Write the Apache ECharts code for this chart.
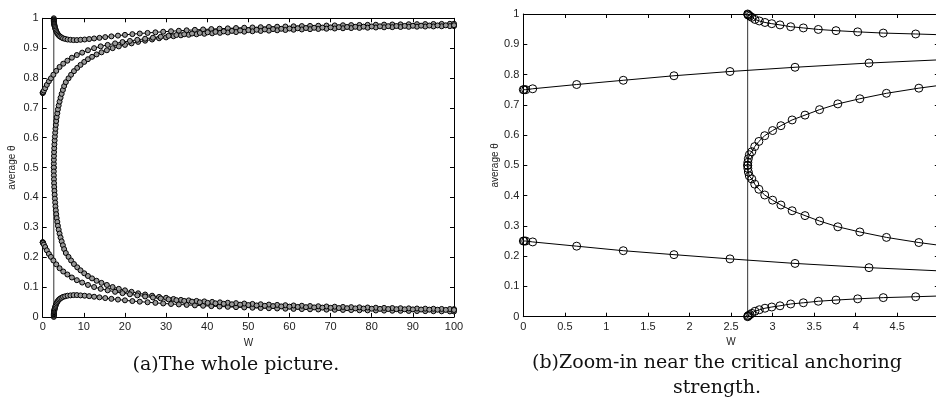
<!DOCTYPE html>
<html>
<head>
<meta charset="utf-8">
<script src="https://cdn.jsdelivr.net/npm/echarts@6/dist/echarts.min.js"></script>
<style>
html, body { margin: 0; padding: 0; background: #fff; }
#main { width: 936px; height: 398px; }
</style>
</head>
<body>
<div id="main"></div>
<script>
// critical anchoring strength (vertical line)
var criticalW = 2.7;

// ---- panel (a): the whole picture ----
// branches that start at 0 / 1 at the critical W
var leftEdgeW = [2.70, 2.70, 2.705, 2.71, 2.72, 2.73, 2.75, 2.77, 2.80, 2.84, 2.89, 2.95, 3.03, 3.12, 3.23, 3.37, 3.53, 3.72, 3.95, 4.22, 4.55, 4.95, 5.45, 6.05, 6.75, 7.5, 8.3, 9.2, 10.2, 11.3, 12.5, 13.8, 15.2, 16.7, 18.3, 20.0, 21.8, 23.6, 25.5, 27.4, 29.3, 31.2, 33.1, 35, 37, 39, 41, 43, 45, 47, 49, 51, 53, 55, 57, 59, 61, 63, 65, 67, 69, 71, 73, 75, 77, 79, 81, 83, 85, 87, 89, 91, 93, 95, 97, 99, 100];
var leftEdgeLow = [0.000, 0.004, 0.007, 0.009, 0.011, 0.013, 0.016, 0.018, 0.020, 0.023, 0.026, 0.029, 0.033, 0.037, 0.041, 0.046, 0.050, 0.054, 0.058, 0.061, 0.064, 0.067, 0.069, 0.071, 0.072, 0.073, 0.073, 0.072, 0.071, 0.0695, 0.0675, 0.0655, 0.063, 0.0605, 0.058, 0.0555, 0.053, 0.051, 0.049, 0.047, 0.045, 0.0433, 0.0417, 0.0402, 0.0387, 0.0373, 0.036, 0.0348, 0.0337, 0.0326, 0.0316, 0.0307, 0.0298, 0.029, 0.0282, 0.0275, 0.0268, 0.0261, 0.0255, 0.0249, 0.0243, 0.0238, 0.0233, 0.0228, 0.0223, 0.0219, 0.0215, 0.0211, 0.0207, 0.0203, 0.0199, 0.0196, 0.0193, 0.019, 0.0187, 0.0184, 0.0182];
var leftEdgeHigh = [1.000, 0.996, 0.993, 0.991, 0.989, 0.987, 0.984, 0.982, 0.980, 0.977, 0.974, 0.971, 0.967, 0.963, 0.959, 0.954, 0.950, 0.946, 0.942, 0.939, 0.936, 0.933, 0.931, 0.929, 0.928, 0.927, 0.927, 0.928, 0.929, 0.9305, 0.9325, 0.9345, 0.937, 0.9395, 0.942, 0.9445, 0.947, 0.949, 0.951, 0.953, 0.955, 0.9567, 0.9583, 0.9598, 0.9613, 0.9627, 0.964, 0.9652, 0.9663, 0.9674, 0.9684, 0.9693, 0.9702, 0.971, 0.9718, 0.9725, 0.9732, 0.9739, 0.9745, 0.9751, 0.9757, 0.9762, 0.9767, 0.9772, 0.9777, 0.9781, 0.9785, 0.9789, 0.9793, 0.9797, 0.9801, 0.9804, 0.9807, 0.981, 0.9813, 0.9816, 0.9818];

// branch that splits from 0.5 at the critical W
var leftMidW = [2.70, 2.704, 2.716, 2.737, 2.766, 2.804, 2.849, 2.902, 2.963, 3.03, 3.10, 3.19, 3.29, 3.40, 3.56, 3.70, 3.89, 4.10, 4.34, 4.61, 4.91, 5.21, 5.62, 6.28, 6.90, 7.60, 8.40, 9.20, 10.1, 11.0, 12.0, 13.1, 14.3, 15.6, 17.0, 18.5, 20.0, 21.6, 23.2, 24.9, 26.6, 28.3, 30.0, 31.8, 33.6, 35.5, 37.4, 39.3, 41.2, 43.1, 45, 47, 49, 51, 53, 55, 57, 59, 61, 63, 65, 67, 69, 71, 73, 75, 77, 79, 81, 83, 85, 87, 89, 91, 93, 95, 97, 99, 100];
var leftMidLow = [0.500, 0.487, 0.474, 0.461, 0.448, 0.435, 0.422, 0.409, 0.396, 0.383, 0.370, 0.357, 0.344, 0.331, 0.318, 0.305, 0.292, 0.279, 0.266, 0.253, 0.240, 0.227, 0.214, 0.201, 0.189, 0.177, 0.166, 0.156, 0.146, 0.137, 0.129, 0.121, 0.114, 0.107, 0.100, 0.094, 0.089, 0.084, 0.079, 0.075, 0.071, 0.067, 0.064, 0.060, 0.057, 0.0553, 0.0535, 0.0519, 0.0503, 0.0488, 0.0475, 0.0461, 0.0448, 0.0435, 0.0424, 0.0413, 0.0402, 0.0392, 0.0383, 0.0374, 0.0365, 0.0357, 0.0349, 0.0342, 0.0334, 0.0327, 0.0321, 0.0315, 0.0308, 0.0302, 0.0297, 0.0291, 0.0286, 0.0281, 0.0276, 0.0272, 0.0267, 0.0263, 0.0260];
var leftMidHigh = [0.500, 0.513, 0.526, 0.539, 0.552, 0.565, 0.578, 0.591, 0.604, 0.617, 0.630, 0.643, 0.656, 0.669, 0.682, 0.695, 0.708, 0.721, 0.734, 0.747, 0.760, 0.773, 0.786, 0.799, 0.811, 0.823, 0.834, 0.844, 0.854, 0.863, 0.871, 0.879, 0.886, 0.893, 0.900, 0.906, 0.911, 0.916, 0.921, 0.925, 0.929, 0.933, 0.936, 0.940, 0.943, 0.9447, 0.9465, 0.9481, 0.9497, 0.9512, 0.9525, 0.9539, 0.9552, 0.9565, 0.9576, 0.9587, 0.9598, 0.9608, 0.9617, 0.9626, 0.9635, 0.9643, 0.9651, 0.9658, 0.9666, 0.9673, 0.9679, 0.9685, 0.9692, 0.9698, 0.9703, 0.9709, 0.9714, 0.9719, 0.9724, 0.9728, 0.9733, 0.9737, 0.9740];

// branches that start at 0.25 / 0.75 for W = 0
var leftSideW = [0, 0.01, 0.03, 0.1, 0.3, 0.6, 1.0, 1.5, 2.0, 2.6, 3.3, 4.1, 5.0, 6.0, 7.1, 8.3, 9.6, 11.0, 12.5, 14.1, 15.8, 17.6, 19.4, 21.2, 23.0, 24.9, 26.8, 28.7, 30.6, 32.5, 34.4, 36.3, 38.2, 40.1, 42, 44, 46, 48, 50, 52, 54, 56, 58, 60, 62, 64, 66, 68, 70, 72, 74, 76, 78, 80, 82, 84, 86, 88, 90, 92, 94, 96, 98, 100];
var leftSideLow = [0.250, 0.250, 0.249, 0.247, 0.242, 0.234, 0.223, 0.211, 0.201, 0.189, 0.176, 0.163, 0.152, 0.142, 0.132, 0.123, 0.115, 0.107, 0.100, 0.094, 0.089, 0.084, 0.0795, 0.0758, 0.072, 0.0684, 0.065, 0.0618, 0.0588, 0.056, 0.0535, 0.0511, 0.049, 0.047, 0.0455, 0.0438, 0.0423, 0.0409, 0.0396, 0.0384, 0.0372, 0.0362, 0.0352, 0.0343, 0.0334, 0.0326, 0.0318, 0.0311, 0.0304, 0.0297, 0.0291, 0.0285, 0.0279, 0.0274, 0.0269, 0.0264, 0.0259, 0.0255, 0.0251, 0.0247, 0.0243, 0.0239, 0.0235, 0.0232];
var leftSideHigh = [0.750, 0.750, 0.751, 0.753, 0.758, 0.766, 0.777, 0.789, 0.799, 0.811, 0.824, 0.837, 0.848, 0.858, 0.868, 0.877, 0.885, 0.893, 0.900, 0.906, 0.911, 0.916, 0.9205, 0.9242, 0.928, 0.9316, 0.935, 0.9382, 0.9412, 0.944, 0.9465, 0.9489, 0.951, 0.953, 0.9545, 0.9562, 0.9577, 0.9591, 0.9604, 0.9616, 0.9628, 0.9638, 0.9648, 0.9657, 0.9666, 0.9674, 0.9682, 0.9689, 0.9696, 0.9703, 0.9709, 0.9715, 0.9721, 0.9726, 0.9731, 0.9736, 0.9741, 0.9745, 0.9749, 0.9753, 0.9757, 0.9761, 0.9765, 0.9768];

// ---- panel (b): zoom-in near the critical anchoring strength ----
var rightEdgeW = [2.700, 2.702, 2.710, 2.728, 2.750, 2.788, 2.840, 2.908, 2.990, 3.089, 3.218, 3.370, 3.550, 3.763, 4.024, 4.332, 4.722, 5.2];
var rightEdgeHigh = [1.000, 0.998, 0.996, 0.993, 0.989, 0.982, 0.977, 0.972, 0.968, 0.964, 0.958, 0.954, 0.949, 0.945, 0.941, 0.937, 0.934, 0.930];
var rightEdgeLow = [0.000, 0.002, 0.004, 0.007, 0.011, 0.018, 0.023, 0.028, 0.032, 0.036, 0.042, 0.046, 0.051, 0.055, 0.059, 0.063, 0.066, 0.070];

var rightMidW = [2.700, 2.702, 2.708, 2.72, 2.75, 2.785, 2.835, 2.905, 3.00, 3.10, 3.235, 3.39, 3.565, 3.785, 4.05, 4.37, 4.76, 5.25];
var rightMidLow = [0.500, 0.490, 0.478, 0.465, 0.455, 0.438, 0.421, 0.402, 0.385, 0.369, 0.350, 0.334, 0.316, 0.297, 0.280, 0.262, 0.245, 0.227];
var rightMidHigh = [0.500, 0.510, 0.522, 0.535, 0.545, 0.562, 0.579, 0.598, 0.615, 0.631, 0.650, 0.666, 0.684, 0.703, 0.720, 0.738, 0.755, 0.773];

var rightSideW = [0, 0.01, 0.03, 0.113, 0.642, 1.203, 1.813, 2.487, 3.27, 4.16, 5.12];
var rightSideLow = [0.250, 0.250, 0.250, 0.247, 0.233, 0.218, 0.205, 0.191, 0.176, 0.162, 0.150];
var rightSideHigh = [0.750, 0.750, 0.750, 0.753, 0.767, 0.781, 0.796, 0.810, 0.824, 0.838, 0.850];

var sansFont = 'Liberation Sans, Arial, sans-serif';
var serifFont = 'DejaVu Serif, serif';

function pairs(ws, ts) {
    return ws.map(function (w, i) { return [w, ts[i]]; });
}

function curve(ws, ts, axis, size, fill) {
    return {
        type: 'line',
        xAxisIndex: axis,
        yAxisIndex: axis,
        data: pairs(ws, ts),
        symbol: 'circle',
        symbolSize: size,
        showAllSymbol: true,
        clip: true,
        lineStyle: { color: '#000', width: 1 },
        itemStyle: { color: fill, borderColor: '#000', borderWidth: 1 },
        emphasis: { disabled: true },
        z: 3
    };
}

function critical(axis) {
    return {
        type: 'line',
        xAxisIndex: axis,
        yAxisIndex: axis,
        data: [[criticalW, 0], [criticalW, 1]],
        symbol: 'none',
        lineStyle: { color: '#333', width: 1 },
        emphasis: { disabled: true },
        z: 2
    };
}

function xAxisFor(grid, max, step, top) {
    return {
        gridIndex: grid,
        type: 'value',
        position: top ? 'top' : 'bottom',
        min: 0,
        max: max,
        interval: step,
        axisLine: { show: true, onZero: false, lineStyle: { color: '#000', width: 1 } },
        axisTick: { show: true, inside: true, length: 4, lineStyle: { color: '#000' } },
        axisLabel: { show: !top, margin: 5, fontSize: 11, color: '#222', fontFamily: sansFont, showMaxLabel: max !== 5 },
        splitLine: { show: false },
        name: top ? '' : 'W',
        nameLocation: 'middle',
        nameGap: 11,
        nameTextStyle: { fontSize: 10, color: '#222', fontFamily: sansFont }
    };
}

function yAxisFor(grid, right, gap) {
    return {
        gridIndex: grid,
        type: 'value',
        position: right ? 'right' : 'left',
        min: 0,
        max: 1,
        interval: 0.1,
        axisLine: { show: true, onZero: false, lineStyle: { color: '#000', width: 1 } },
        axisTick: { show: true, inside: true, length: 4, lineStyle: { color: '#000' } },
        axisLabel: { show: !right, margin: 4, fontSize: 11, color: '#222', fontFamily: sansFont },
        splitLine: { show: false },
        name: right ? '' : 'average \u03b8',
        nameLocation: 'middle',
        nameRotate: 90,
        nameGap: gap,
        nameTextStyle: { fontSize: 10, color: '#222', fontFamily: sansFont }
    };
}

var chart = echarts.init(document.getElementById('main'), null, { renderer: 'canvas' });

chart.setOption({
    animation: false,
    backgroundColor: '#fff',
    grid: [
        { left: 42.7, top: 18.3, width: 411.3, height: 298.6, outerBoundsMode: 'none', containLabel: false },
        { left: 523.3, top: 14, width: 415.5, height: 302.7, outerBoundsMode: 'none', containLabel: false }
    ],
    xAxis: [
        xAxisFor(0, 100, 10, false),
        xAxisFor(1, 5, 0.5, false),
        xAxisFor(0, 100, 10, true),
        xAxisFor(1, 5, 0.5, true)
    ],
    yAxis: [
        yAxisFor(0, false, 25),
        yAxisFor(1, false, 22),
        yAxisFor(0, true, 0),
        yAxisFor(1, true, 0)
    ],
    series: [
        critical(0),
        curve(leftEdgeW, leftEdgeHigh, 0, 5, '#9a9a9a'),
        curve(leftEdgeW, leftEdgeLow, 0, 5, '#9a9a9a'),
        curve(leftMidW, leftMidHigh, 0, 5, '#9a9a9a'),
        curve(leftMidW, leftMidLow, 0, 5, '#9a9a9a'),
        curve(leftSideW, leftSideHigh, 0, 5, '#9a9a9a'),
        curve(leftSideW, leftSideLow, 0, 5, '#9a9a9a'),
        critical(1),
        curve(rightEdgeW, rightEdgeHigh, 1, 8, 'transparent'),
        curve(rightEdgeW, rightEdgeLow, 1, 8, 'transparent'),
        curve(rightMidW, rightMidHigh, 1, 8, 'transparent'),
        curve(rightMidW, rightMidLow, 1, 8, 'transparent'),
        curve(rightSideW, rightSideHigh, 1, 8, 'transparent'),
        curve(rightSideW, rightSideLow, 1, 8, 'transparent')
    ],
    graphic: [
        {
            type: 'text',
            style: {
                x: 236, y: 365,
                text: '(a)The whole picture.',
                align: 'center', verticalAlign: 'middle',
                font: '19px ' + serifFont, fill: '#111'
            }
        },
        {
            type: 'text',
            style: {
                x: 717, y: 376,
                text: '(b)Zoom-in near the critical anchoring\nstrength.',
                align: 'center', verticalAlign: 'middle', lineHeight: 25,
                font: '19px ' + serifFont, fill: '#111'
            }
        }
    ]
});
</script>
</body>
</html>
